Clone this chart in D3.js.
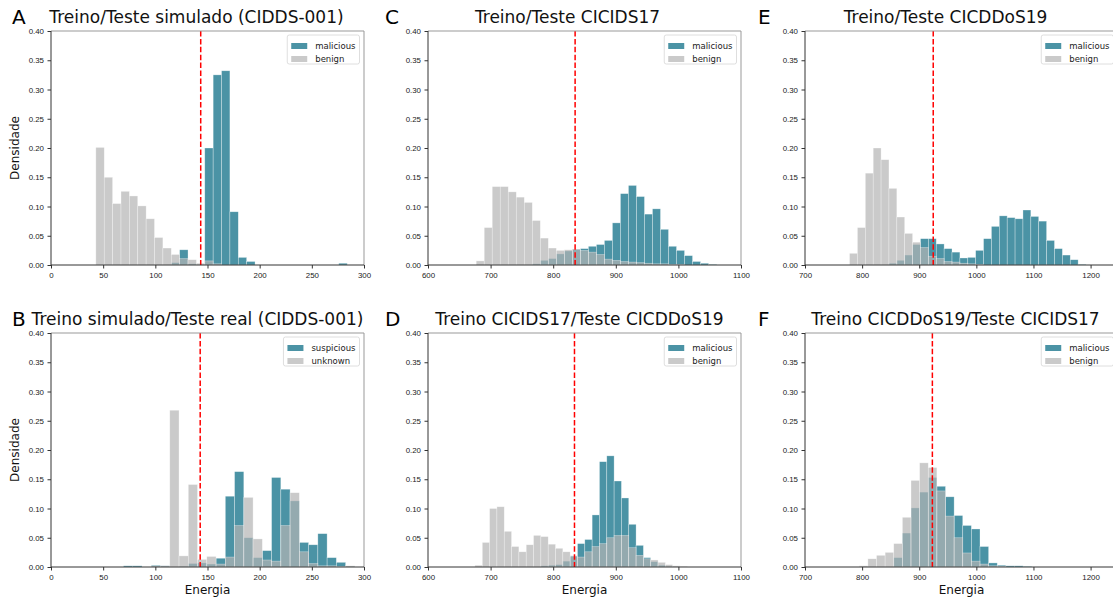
<!DOCTYPE html>
<meta charset="utf-8">
<style>
body { margin: 0; background: #fff; }
svg { display: block; font-family: "DejaVu Sans", sans-serif; }
.tick text { fill: #222; font-size: 7.9px; }
.tick line { stroke: #333; }
</style>
<body>
<script src="https://d3js.org/d3.v7.min.js"></script>
<script>

// panel order: A, B (left column), C, D (middle), E, F (right)
var letters = ["A", "B", "C", "D", "E", "F"];
var titles = [
  "Treino/Teste simulado (CIDDS-001)",
  "Treino simulado/Teste real (CIDDS-001)",
  "Treino/Teste CICIDS17",
  "Treino CICIDS17/Teste CICDDoS19",
  "Treino/Teste CICDDoS19",
  "Treino CICDDoS19/Teste CICIDS17"
];
var legendNames = [
  ["malicious", "benign"], ["suspicious", "unknown"],
  ["malicious", "benign"], ["malicious", "benign"],
  ["malicious", "benign"], ["malicious", "benign"]
];
var xDomains = [[0, 300], [0, 300], [600, 1100], [600, 1100], [700, 1248], [700, 1248]];
var xTicks = [
  [0, 50, 100, 150, 200, 250, 300], [0, 50, 100, 150, 200, 250, 300],
  [600, 700, 800, 900, 1000, 1100], [600, 700, 800, 900, 1000, 1100],
  [700, 800, 900, 1000, 1100, 1200], [700, 800, 900, 1000, 1100, 1200]
];
var yTicks = [0, 0.05, 0.10, 0.15, 0.20, 0.25, 0.30, 0.35, 0.40];
var thresholds = [143.5, 143, 835, 834, 924.5, 923];
var binStart = [43, 69.5, 677, 675, 778, 795];
var binWidth = [8.03, 8.87, 12.8, 11.7, 13.8, 15.1];

var maliciousA = [0,0,0,0,0,0,0,0,0,0.004,0.026,0.002,0,0.200,0.325,0.332,0.091,0.013,0.006,0,0,0,0,0,0,0,0,0,0,0.003];
var benignA = [0.201,0.150,0.105,0.126,0.118,0.101,0.079,0.047,0.029,0.018,0.011,0.009,0.003,0.007,0.002,0,0,0,0,0,0,0,0,0,0,0,0,0,0,0];
var maliciousB = [0.002,0.002,0,0.003,0.002,0,0.001,0.006,0.007,0.005,0.015,0.121,0.163,0.050,0.016,0.028,0.153,0.133,0.113,0.042,0.038,0.057,0.016,0.008,0.001];
var benignB = [0,0,0,0.002,0.002,0.268,0.019,0.141,0.013,0.018,0.005,0.017,0.071,0.119,0.048,0.012,0.010,0.071,0.127,0.026,0.006,0.002,0.002,0.001,0.002];
var maliciousC = [0,0,0,0,0,0,0,0.002,0.008,0.011,0.019,0.024,0.027,0.028,0.032,0.035,0.042,0.072,0.122,0.136,0.117,0.087,0.096,0.061,0.032,0.025,0.016,0.006,0.003,0.001];
var benignC = [0.007,0.064,0.134,0.134,0.125,0.116,0.107,0.076,0.046,0.029,0.025,0.026,0.027,0.025,0.022,0.018,0.010,0.008,0.006,0.005,0.004,0.003,0.002,0.002,0.001,0.001,0,0,0,0];
var maliciousD = [0,0,0,0,0,0,0,0,0,0.002,0.003,0.004,0.010,0.019,0.040,0.047,0.089,0.180,0.190,0.147,0.118,0.073,0.037,0.016,0.009,0.003,0.001,0,0,0];
var benignD = [0.003,0.042,0.100,0.103,0.061,0.035,0.026,0.038,0.054,0.052,0.039,0.032,0.026,0.018,0.017,0.026,0.035,0.040,0.050,0.054,0.054,0.033,0.020,0.014,0.012,0.008,0.004,0.002,0.001,0];
var maliciousE = [0,0,0,0,0,0.003,0.008,0.017,0.035,0.045,0.045,0.036,0.028,0.022,0.012,0.013,0.025,0.045,0.066,0.084,0.081,0.079,0.094,0.083,0.075,0.042,0.028,0.017,0.009,0.001];
var benignE = [0.020,0.064,0.157,0.200,0.180,0.131,0.082,0.054,0.039,0.030,0.015,0.011,0.006,0.005,0.003,0.002,0.001,0,0,0,0,0,0,0,0,0,0,0,0,0];
var maliciousF = [0,0,0,0,0.016,0.058,0.101,0.128,0.153,0.138,0.120,0.088,0.071,0.065,0.035,0.007,0.003,0.002,0.002,0.001];
var benignF = [0.002,0.014,0.020,0.025,0.040,0.085,0.148,0.178,0.170,0.130,0.087,0.050,0.024,0.010,0.005,0.002,0.001,0,0,0];

var malicious = [maliciousA, maliciousB, maliciousC, maliciousD, maliciousE, maliciousF];
var benign = [benignA, benignB, benignC, benignD, benignE, benignF];

// layout
var width = 1113, height = 602,
    plotW = 313, plotH = 234,
    colLeft = [51, 428, 805],
    rowTop = [31, 333],
    letterX = [12, 385, 758],
    titleCenter = [145.5, 146.5, 139.5, 151.5, 140.5, 150.5];

var teal = "#4b93a5",
    grey = "#b3b3b3";

var svg = d3.select("body").append("svg")
    .attr("width", width)
    .attr("height", height);

var y = d3.scaleLinear().domain([0, 0.4]).range([plotH, 0]);

letters.forEach(function(letter, p) {
  var col = Math.floor(p / 2), row = p % 2;
  var left = colLeft[col], top = rowTop[row];
  var x = d3.scaleLinear().domain(xDomains[p]).range([0, plotW]);

  var g = svg.append("g").attr("transform", "translate(" + left + "," + top + ")");

  function bins(values) {
    return values.map(function(v, i) {
      return {x0: binStart[p] + i * binWidth[p], x1: binStart[p] + (i + 1) * binWidth[p], v: v};
    }).filter(function(d) { return d.v > 0; });
  }

  g.append("g").selectAll("rect")
    .data(bins(malicious[p]))
    .enter().append("rect")
      .attr("x", function(d) { return x(d.x0); })
      .attr("width", function(d) { return x(d.x1) - x(d.x0); })
      .attr("y", function(d) { return y(d.v); })
      .attr("height", function(d) { return y(0) - y(d.v); })
      .attr("fill", teal)
      .attr("stroke", "#ffffff")
      .attr("stroke-opacity", 0.5)
      .attr("stroke-width", 0.6);

  g.append("g").selectAll("rect")
    .data(bins(benign[p]))
    .enter().append("rect")
      .attr("x", function(d) { return x(d.x0); })
      .attr("width", function(d) { return x(d.x1) - x(d.x0); })
      .attr("y", function(d) { return y(d.v); })
      .attr("height", function(d) { return y(0) - y(d.v); })
      .attr("fill", grey)
      .attr("fill-opacity", 0.7)
      .attr("stroke", "#ffffff")
      .attr("stroke-opacity", 0.5)
      .attr("stroke-width", 0.6);

  // threshold
  g.append("line")
      .attr("x1", x(thresholds[p])).attr("x2", x(thresholds[p]))
      .attr("y1", 0).attr("y2", plotH)
      .attr("stroke", "red")
      .attr("stroke-width", 1.5)
      .attr("stroke-dasharray", "5.5,2.4");

  // spines
  g.append("path")
      .attr("d", "M0,0H" + plotW + "V" + plotH)
      .attr("fill", "none").attr("stroke", "#999").attr("stroke-width", 1);
  g.append("path")
      .attr("d", "M0,0V" + plotH + "H" + plotW)
      .attr("fill", "none").attr("stroke", "#333").attr("stroke-width", 1);

  var ax = g.append("g")
      .attr("transform", "translate(0," + plotH + ")")
      .call(d3.axisBottom(x).tickValues(xTicks[p]).tickFormat(d3.format("d"))
        .tickSize(3.5).tickSizeOuter(0).tickPadding(3.5));
  ax.select(".domain").remove();

  var ay = g.append("g")
      .call(d3.axisLeft(y).tickValues(yTicks).tickFormat(d3.format(".2f"))
        .tickSize(3.5).tickSizeOuter(0).tickPadding(3.5));
  ay.select(".domain").remove();
  svg.selectAll(".tick text").attr("font-family", null).attr("font-size", null);

  // legend
  var leg = g.append("g");
  var box = leg.append("rect");
  var widest = 0;
  legendNames[p].forEach(function(name, i) {
    var cy = 11 + i * 13;
    leg.append("rect")
        .attr("x", 0).attr("y", cy - 3)
        .attr("width", 16).attr("height", 6)
        .attr("fill", i === 0 ? teal : grey)
        .attr("fill-opacity", i === 0 ? 1 : 0.7);
    var t = leg.append("text")
        .attr("x", 24).attr("y", cy + 3)
        .attr("font-size", 8.5)
        .attr("fill", "#222")
        .text(name);
    widest = Math.max(widest, t.node().getComputedTextLength());
  });
  var boxW = widest + 32;
  box.attr("x", -4).attr("y", 0)
      .attr("height", 29).attr("width", boxW).attr("rx", 2)
      .attr("fill", "#fff").attr("fill-opacity", 0.8)
      .attr("stroke", "#d5d5d5").attr("stroke-width", 0.8);
  leg.attr("transform", "translate(" + (plotW - 4.5 - boxW + 4) + ",4)");

  // panel letter and title
  svg.append("text")
      .attr("x", letterX[col]).attr("y", top - 7.5)
      .attr("font-size", 20)
      .attr("fill", "#000")
      .text(letter);
  svg.append("text")
      .attr("x", left + titleCenter[p]).attr("y", top - 8)
      .attr("text-anchor", "middle")
      .attr("font-size", 17)
      .attr("fill", "#111")
      .text(titles[p]);

  if (col === 0) {
    svg.append("text")
        .attr("transform", "translate(19," + (top + plotH / 2) + ")rotate(-90)")
        .attr("text-anchor", "middle")
        .attr("font-size", 12)
        .attr("fill", "#111")
        .text("Densidade");
  }
  if (row === 1) {
    svg.append("text")
        .attr("x", left + plotW / 2).attr("y", top + plotH + 27)
        .attr("text-anchor", "middle")
        .attr("font-size", 12)
        .attr("fill", "#111")
        .text("Energia");
  }
});

</script>
